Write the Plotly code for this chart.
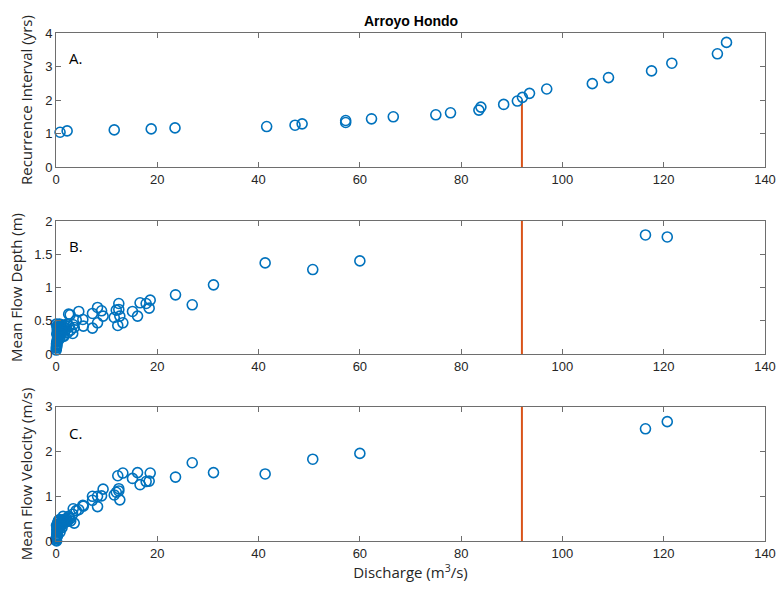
import plotly.graph_objects as go

# Panel A: recurrence interval vs discharge
qA = [0.8, 2.2, 11.5, 18.8, 23.5, 41.6, 47.2, 48.6, 57.2, 57.2, 62.3, 66.6, 75.0, 77.9,
      83.5, 83.9, 88.4, 91.1, 92.1, 93.5, 96.9, 105.9, 109.1, 117.6, 121.6, 130.6, 132.4]
riA = [1.04, 1.08, 1.11, 1.14, 1.17, 1.21, 1.25, 1.29, 1.39, 1.33, 1.44, 1.50, 1.56, 1.62,
       1.70, 1.79, 1.87, 1.97, 2.08, 2.20, 2.33, 2.49, 2.67, 2.87, 3.10, 3.38, 3.72]

# Panels B and C: depth and velocity vs discharge (same measurements)
qBC = [120.7, 116.4, 60.0, 50.7, 41.3, 31.1, 26.9, 23.6, 18.6, 18.4, 17.8, 16.6, 16.1, 15.1,
       13.2, 12.2, 12.4, 12.4, 11.9, 11.5, 12.6, 9.3, 9.0, 8.2, 8.2, 7.2, 7.2, 5.3, 5.4,
       4.5, 4.0, 3.4, 3.3, 2.8, 2.5, 2.2, 1.4, 3.6, 2.9,
       0.05, 0.08, 0.1, 0.12, 0.15, 0.18, 0.2, 0.22, 0.25, 0.3, 0.32, 0.35, 0.4, 0.45,
       0.5, 0.55, 0.6, 0.65, 0.7, 0.75, 0.8, 0.9, 1.0, 1.1, 1.2, 1.3, 1.5, 1.7, 1.9,
       2.1, 2.3, 2.6, 0.15, 0.25, 0.35, 0.5, 0.7, 0.9, 1.2, 1.6, 0.1, 0.3, 0.6, 0.2,
       0.4, 0.8, 1.0, 0.05, 0.12]
depth = [1.76, 1.79, 1.40, 1.27, 1.37, 1.04, 0.74, 0.89, 0.81, 0.69, 0.76, 0.77, 0.57, 0.64,
         0.47, 0.43, 0.76, 0.67, 0.66, 0.55, 0.57, 0.57, 0.65, 0.70, 0.47, 0.61, 0.39, 0.52, 0.42,
         0.64, 0.51, 0.44, 0.31, 0.59, 0.60, 0.45, 0.27, 0.40, 0.36,
         0.06, 0.09, 0.10, 0.12, 0.14, 0.16, 0.18, 0.20, 0.19, 0.24, 0.22, 0.26, 0.28, 0.30,
         0.27, 0.33, 0.35, 0.31, 0.38, 0.34, 0.40, 0.36, 0.42, 0.39, 0.44, 0.37, 0.41, 0.34,
         0.43, 0.38, 0.32, 0.42, 0.30, 0.35, 0.41, 0.44, 0.45, 0.29, 0.33, 0.27, 0.15,
         0.43, 0.22, 0.40, 0.37, 0.25, 0.30, 0.45, 0.12, 0.08]
velocity = [2.67, 2.51, 1.96, 1.83, 1.50, 1.53, 1.75, 1.43, 1.52, 1.34, 1.33, 1.26, 1.53, 1.40,
            1.52, 1.46, 1.12, 1.17, 1.09, 1.03, 0.92, 1.16, 1.01, 1.00, 0.77, 1.00, 0.91, 0.80,
            0.78, 0.70, 0.68, 0.72, 0.60, 0.50, 0.55, 0.45, 0.55, 0.40, 0.45,
            0.02, 0.05, 0.08, 0.10, 0.12, 0.15, 0.14, 0.18, 0.20, 0.22, 0.25, 0.24, 0.28, 0.30,
            0.32, 0.29, 0.35, 0.33, 0.38, 0.36, 0.40, 0.38, 0.42, 0.44, 0.40, 0.46, 0.48, 0.45,
            0.47, 0.50, 0.44, 0.52, 0.25, 0.34, 0.42, 0.46, 0.48, 0.36, 0.30, 0.41, 0.35,
            0.12, 0.44, 0.30, 0.26, 0.20, 0.33, 0.06, 0.00]

bankfull_q = [92, 92]
lineA = [0, 2.0]
lineB = [0, 2]
lineC = [0, 3]

xticks = [0, 20, 40, 60, 80, 100, 120, 140]
ticksA = [0, 1, 2, 3, 4]
ticksB = [0, 0.5, 1, 1.5, 2]
ticksC = [0, 1, 2, 3]

BLUE = "#0072BD"
RED = "#D95319"
marker = dict(symbol="circle-open", size=10, color=BLUE, line=dict(width=1.6, color=BLUE))

fig = go.Figure()
def add(x, y, mode, xa, ya, **kw):
    fig.add_trace(go.Scatter(x=x, y=y, mode=mode, xaxis=xa, yaxis=ya, showlegend=False,
                             cliponaxis=False, **kw))

add(bankfull_q, lineA, "lines", "x", "y", line=dict(color=RED, width=2))
add(qA, riA, "markers", "x", "y", marker=marker)
add(bankfull_q, lineB, "lines", "x2", "y2", line=dict(color=RED, width=2))
add(qBC, depth, "markers", "x2", "y2", marker=marker)
add(bankfull_q, lineC, "lines", "x3", "y3", line=dict(color=RED, width=2))
add(qBC, velocity, "markers", "x3", "y3", marker=marker)

TICKFONT = dict(family="Liberation Sans, Arial, sans-serif", size=13, color="#262626")
LABFONT = dict(family="Open Sans, Noto Sans, sans-serif", size=15, color="#262626")
AXC = "#6e6e6e"

def xax(anchor, title=None):
    d = dict(range=[0, 140], tickvals=xticks, ticks="inside", ticklen=5, tickcolor=AXC,
             showline=True, linecolor=AXC, linewidth=1, mirror="ticks", showgrid=False,
             zeroline=False, tickfont=TICKFONT, anchor=anchor, domain=[0, 1], automargin=False)
    if title:
        d["title"] = dict(text=title, font=LABFONT, standoff=6)
    return d

def yax(rng, tv, dom, anchor, title):
    return dict(range=rng, tickvals=tv, ticks="inside", ticklen=5, tickcolor=AXC,
                showline=True, linecolor=AXC, linewidth=1, mirror="ticks", showgrid=False,
                zeroline=False, tickfont=TICKFONT, anchor=anchor, domain=dom, automargin=False,
                title=dict(text=title, font=LABFONT, standoff=8))

fig.update_layout(
    width=778, height=591,
    margin=dict(l=56, r=13, t=33, b=50),
    paper_bgcolor="white", plot_bgcolor="white",
    xaxis=xax("y"),
    yaxis=yax([0, 4], ticksA, [0.736, 1.0], "x", "Recurrence Interval (yrs)"),
    xaxis2=xax("y2"),
    yaxis2=yax([0, 2], ticksB, [0.368, 0.630], "x2", "Mean Flow Depth (m)"),
    xaxis3=xax("y3", "Discharge (m<sup>3</sup>/s)"),
    yaxis3=yax([0, 3], ticksC, [0.0, 0.264], "x3", "Mean Flow Velocity (m/s)"),
    annotations=[
        dict(text="<b>Arroyo Hondo</b>", x=0.5, y=1.0, xref="paper", yref="paper",
             xanchor="center", yanchor="bottom", yshift=2, showarrow=False,
             font=dict(family="Liberation Sans, Arial, sans-serif", size=14, color="black")),
        dict(text="A.", x=0.015, y=0.95, xref="paper", yref="paper", xanchor="left",
             yanchor="middle", showarrow=False, font=dict(family="Open Sans, sans-serif", size=15, color="black")),
        dict(text="B.", x=0.015, y=0.580, xref="paper", yref="paper", xanchor="left",
             yanchor="middle", showarrow=False, font=dict(family="Open Sans, sans-serif", size=15, color="black")),
        dict(text="C.", x=0.015, y=0.213, xref="paper", yref="paper", xanchor="left",
             yanchor="middle", showarrow=False, font=dict(family="Open Sans, sans-serif", size=15, color="black")),
    ],
)

fig.write_html("out.html")
